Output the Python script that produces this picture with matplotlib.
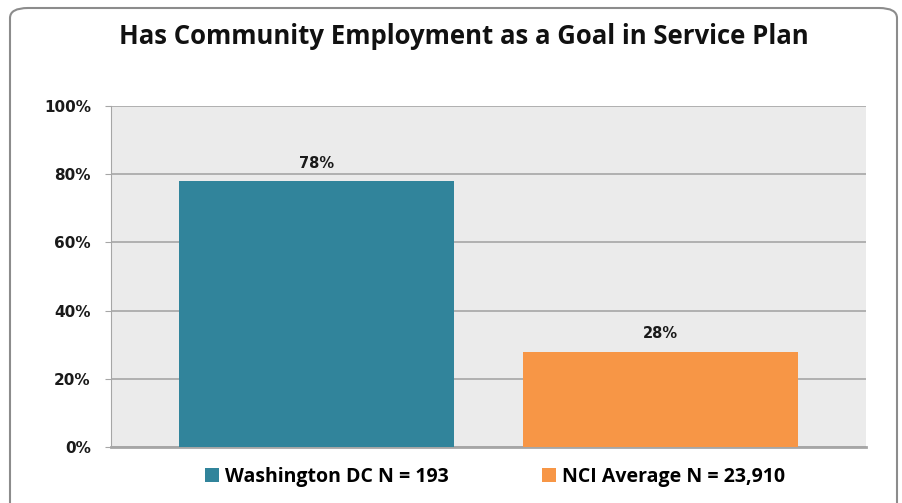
import matplotlib.pyplot as plt
from matplotlib.patches import FancyBboxPatch
from matplotlib.ticker import FuncFormatter

series = ['Washington DC N = 193', 'NCI Average N = 23,910']
values = [78, 28]
labels = ['78%', '28%']
colors = ['#31849B', '#F79646']

W, H = 903, 503
fig = plt.figure(figsize=(W / 100, H / 100), dpi=100)

# rounded chart border, bottom runs off the picture
border = FancyBboxPatch((10 / W, -20 / H), 887 / W, 515 / H,
                        boxstyle='round,pad=0,rounding_size=0.02',
                        transform=fig.transFigure, facecolor='white',
                        edgecolor='#8C8C8C', linewidth=1.5, zorder=-1)
fig.patches.append(border)

ax = fig.add_axes([111 / W, 1 - 447 / H, 755 / W, 341 / H])
ax.set_facecolor('#EBEBEB')

bar_w = 275 / 755
gap = 69 / 755
offsets = [-(bar_w + gap) / 2, (bar_w + gap) / 2]
for off, v, lab, c, name in zip(offsets, values, labels, colors, series):
    ax.bar(off, v, width=bar_w, color=c, label=name, zorder=3)
    ax.text(off, v + 3, lab, ha='center', va='bottom', fontsize=10.5,
            fontweight='bold', family='DejaVu Sans', color='#1a1a1a')

ax.set_xlim(-0.5, 0.5)
ax.set_ylim(0, 100)
ax.set_yticks(range(0, 101, 20))
ax.yaxis.set_major_formatter(FuncFormatter(lambda v, p: f'{int(v)}%'))
ax.set_xticks([])
ax.grid(axis='y', color='#A6A6A6', linewidth=1.2, zorder=1)
for s in ['top', 'right']:
    ax.spines[s].set_visible(False)
ax.spines['left'].set_color('#A6A6A6')
ax.spines['bottom'].set_color('#A6A6A6')
ax.spines['bottom'].set_linewidth(2)
ax.tick_params(axis='y', length=4.5, color='#A6A6A6', pad=10, labelsize=11)
for t in ax.get_yticklabels():
    t.set_fontweight('bold')
    t.set_color('#1a1a1a')

fig.text(464 / W, 1 - 37 / H, 'Has Community Employment as a Goal in Service Plan',
         ha='center', va='center', fontsize=18.5, fontweight='bold',
         family='Open Sans', color='#111111')

ax.legend(loc='center', bbox_to_anchor=(0.509, (447 - 477) / 341), ncol=2,
          frameon=False, prop={'family': 'Open Sans', 'weight': 'bold', 'size': 14},
          handlelength=0.72, handleheight=0.72, handletextpad=0.3, columnspacing=4.8,
          borderpad=0, borderaxespad=0)

fig.savefig('out.png', dpi=100)
